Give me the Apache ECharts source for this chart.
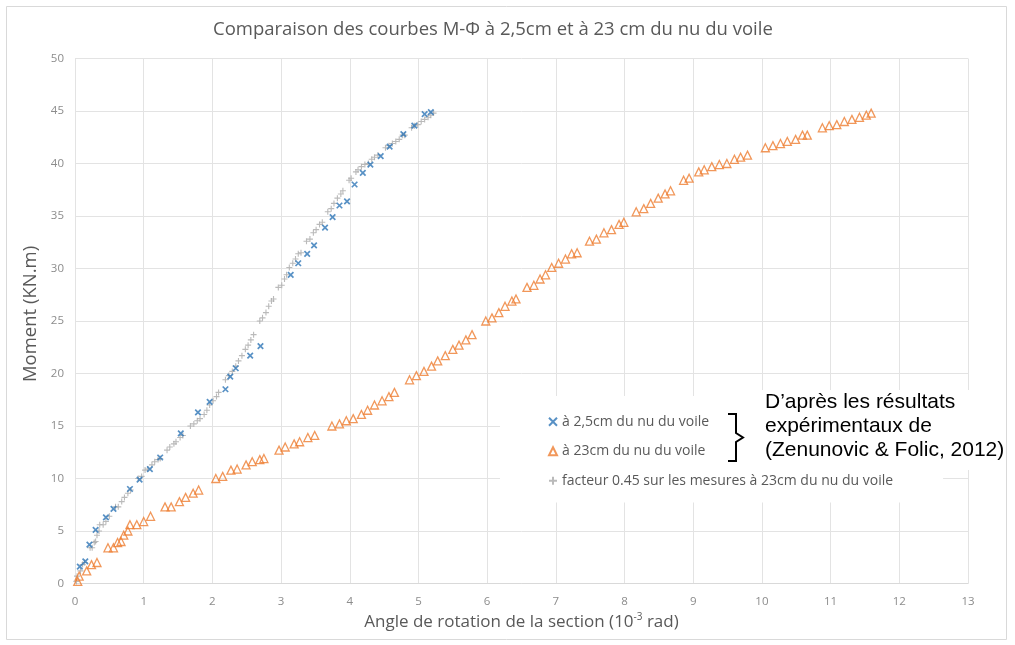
<!DOCTYPE html>
<html>
<head>
<meta charset="utf-8">
<script src="https://cdn.jsdelivr.net/npm/echarts@6/dist/echarts.min.js"></script>
<style>
  html, body { margin: 0; padding: 0; background: #fff; }
  #chart { width: 1015px; height: 645px; }
</style>
</head>
<body>
<div id="chart"></div>
<script>
// mesures a 2,5cm du nu du voile [rotation 10^-3 rad, moment kN.m]
var mesures25 = [
  [0.07,1.6],[0.15,2.1],[0.21,3.7],[0.30,5.1],[0.45,6.3],[0.56,7.1],[0.80,9.0],[0.94,9.9],
  [1.09,10.9],[1.24,12.0],[1.54,14.3],[1.79,16.3],[1.96,17.3],[2.19,18.5],[2.26,19.7],[2.34,20.5],
  [2.55,21.7],[2.70,22.6],[3.14,29.4],[3.25,30.5],[3.38,31.4],[3.48,32.2],[3.64,33.9],[3.75,34.9],
  [3.85,36.0],[3.96,36.4],[4.07,38.0],[4.19,39.1],[4.30,39.9],[4.45,40.7],[4.58,41.6],[4.78,42.8],
  [4.94,43.6],[5.09,44.7],[5.18,44.9]
];

// mesures a 23cm du nu du voile
var mesures23 = [
  [0.04,0.2],[0.06,0.7],[0.17,1.2],[0.24,1.8],[0.32,2.0],
  [0.48,3.4],[0.56,3.4],[0.62,3.9],[0.67,4.0],[0.71,4.6],[0.77,5.0],[0.80,5.6],[0.90,5.6],[1.00,5.9],[1.10,6.4],
  [1.31,7.3],[1.40,7.3],[1.52,7.8],[1.61,8.2],[1.72,8.6],[1.80,8.9],
  [2.05,10.0],[2.15,10.2],[2.27,10.8],[2.36,10.9],[2.49,11.3],[2.58,11.6],[2.69,11.8],[2.75,11.9],
  [2.97,12.7],[3.06,13.0],[3.19,13.3],[3.27,13.5],[3.39,13.9],[3.49,14.1],
  [3.74,15.0],[3.85,15.2],[3.95,15.5],[4.05,15.7],[4.17,16.1],[4.26,16.5],[4.36,17.0],[4.47,17.4],[4.57,17.8],[4.65,18.2],
  [4.87,19.4],[4.97,19.8],[5.08,20.2],[5.19,20.7],[5.28,21.2],[5.39,21.7],[5.50,22.3],[5.59,22.7],[5.69,23.2],[5.78,23.7],
  [5.98,25.0],[6.07,25.3],[6.17,25.8],[6.26,26.4],[6.36,26.9],[6.42,27.1],
  [6.58,28.2],[6.68,28.4],[6.77,29.0],[6.85,29.4],[6.94,30.1],[7.04,30.5],[7.14,30.9],[7.23,31.4],[7.31,31.5],
  [7.49,32.6],[7.59,32.8],[7.70,33.4],[7.81,33.7],[7.92,34.2],[7.99,34.4],
  [8.17,35.4],[8.28,35.7],[8.38,36.2],[8.49,36.7],[8.59,37.1],[8.67,37.4],
  [8.86,38.4],[8.94,38.6],[9.08,39.2],[9.16,39.4],[9.27,39.7],[9.38,39.9],[9.49,40.0],[9.60,40.4],[9.69,40.6],[9.79,40.8],
  [10.05,41.5],[10.16,41.7],[10.27,41.9],[10.37,42.1],[10.49,42.3],[10.59,42.7],[10.66,42.7],
  [10.88,43.4],[10.98,43.6],[11.09,43.7],[11.20,44.0],[11.31,44.2],[11.42,44.4],[11.52,44.6],[11.59,44.8]
];

var facteur045 = [
  [0.02,0.2],[0.03,0.7],[0.08,1.2],[0.11,1.8],[0.14,2.0],
  [0.22,3.4],[0.25,3.4],[0.28,3.9],[0.30,4.0],[0.32,4.6],[0.35,5.0],[0.36,5.6],[0.41,5.6],[0.45,5.9],[0.50,6.4],
  [0.59,7.3],[0.63,7.3],[0.68,7.8],[0.72,8.2],[0.77,8.6],[0.81,8.9],
  [0.92,10.0],[0.97,10.2],[1.02,10.8],[1.06,10.9],[1.12,11.3],[1.16,11.6],[1.21,11.8],[1.24,11.9],
  [1.34,12.7],[1.38,13.0],[1.44,13.3],[1.47,13.5],[1.53,13.9],[1.57,14.1],
  [1.68,15.0],[1.73,15.2],[1.78,15.5],[1.82,15.7],[1.88,16.1],[1.92,16.5],[1.96,17.0],[2.01,17.4],[2.06,17.8],[2.09,18.2],
  [2.19,19.4],[2.24,19.8],[2.29,20.2],[2.34,20.7],[2.38,21.2],[2.43,21.7],[2.48,22.3],[2.52,22.7],[2.56,23.2],[2.60,23.7],
  [2.69,25.0],[2.73,25.3],[2.78,25.8],[2.82,26.4],[2.86,26.9],[2.89,27.1],
  [2.96,28.2],[3.01,28.4],[3.05,29.0],[3.08,29.4],[3.12,30.1],[3.17,30.5],[3.21,30.9],[3.25,31.4],[3.29,31.5],
  [3.37,32.6],[3.42,32.8],[3.47,33.4],[3.51,33.7],[3.56,34.2],[3.60,34.4],
  [3.68,35.4],[3.73,35.7],[3.77,36.2],[3.82,36.7],[3.87,37.1],[3.90,37.4],
  [3.99,38.4],[4.02,38.6],[4.09,39.2],[4.12,39.4],[4.17,39.7],[4.22,39.9],[4.27,40.0],[4.32,40.4],[4.36,40.6],[4.41,40.8],
  [4.52,41.5],[4.57,41.7],[4.62,41.9],[4.67,42.1],[4.72,42.3],[4.77,42.7],[4.80,42.7],
  [4.90,43.4],[4.94,43.6],[4.99,43.7],[5.04,44.0],[5.09,44.2],[5.14,44.4],[5.18,44.6],[5.22,44.8]
];

var seriesNames = [
  'à 2,5cm du nu du voile',
  'à 23cm du nu du voile',
  'facteur 0.45 sur les mesures à 23cm du nu du voile'
];

var FONT = '"Open Sans", "Noto Sans", sans-serif';
var crossPath = 'path://M0,0L10,10M10,0L0,10';
var plusPath = 'path://M5,0L5,10M0,5L10,5';

var chart = echarts.init(document.getElementById('chart'));

chart.setOption({
  backgroundColor: '#fff',
  animation: false,
  title: {
    text: 'Comparaison des courbes M-Φ à 2,5cm et à 23 cm du nu du voile',
    left: 213,
    top: 20,
    padding: 0,
    textStyle: { fontFamily: FONT, fontSize: 18.5, fontWeight: 'normal', color: '#595959' }
  },
  grid: { left: 75, right: 47, top: 58.5, bottom: 61.5 },
  legend: {
    orient: 'vertical',
    left: 500,
    top: 396,
    padding: [16, 50, 12, 48],
    itemGap: 10,
    itemWidth: 8,
    itemHeight: 8,
    backgroundColor: '#fff',
    data: seriesNames,
    textStyle: { fontFamily: FONT, fontSize: 14, lineHeight: 19.5, color: '#595959' }
  },
  xAxis: {
    type: 'value',
    min: 0, max: 13, interval: 1,
    name: 'Angle de rotation de la section (10{sup|-3} rad)',
    nameLocation: 'middle',
    nameGap: 28,
    nameTextStyle: {
      fontFamily: FONT, fontSize: 17, color: '#595959',
      rich: { sup: { fontFamily: FONT, fontSize: 10, color: '#595959', padding: [0, 0, 9, 0] } }
    },
    axisLine: { show: true, lineStyle: { color: '#d9d9d9' } },
    axisTick: { show: false },
    axisLabel: { fontFamily: FONT, fontSize: 11.5, color: '#8c8c8c', margin: 12 },
    splitLine: { show: true, lineStyle: { color: '#e3e3e3' } }
  },
  yAxis: {
    type: 'value',
    min: 0, max: 50, interval: 5,
    name: 'Moment (KN.m)',
    nameLocation: 'middle',
    nameGap: 26,
    nameTextStyle: { fontFamily: FONT, fontSize: 18.5, color: '#595959', padding: [0, 0, 0, 14] },
    axisLine: { show: false },
    axisTick: { show: false },
    axisLabel: { fontFamily: FONT, fontSize: 11.5, color: '#8c8c8c', margin: 11 },
    splitLine: { show: true, lineStyle: { color: '#e3e3e3' } }
  },
  series: [
    {
      name: seriesNames[2],
      type: 'scatter',
      data: facteur045,
      symbol: plusPath,
      symbolSize: 6,
      itemStyle: { color: 'rgba(0,0,0,0)', borderColor: '#a9a9a9', borderWidth: 1.1 },
      z: 2
    },
    {
      name: seriesNames[1],
      type: 'scatter',
      data: mesures23,
      symbol: 'triangle',
      symbolSize: 8,
      itemStyle: { color: 'rgba(255,255,255,0)', borderColor: '#ed7d31', borderWidth: 1.3 },
      z: 3
    },
    {
      name: seriesNames[0],
      type: 'scatter',
      data: mesures25,
      symbol: crossPath,
      symbolSize: 5.5,
      itemStyle: { color: 'rgba(0,0,0,0)', borderColor: '#2e75b6', borderWidth: 1.7 },
      z: 4
    }
  ],
  graphic: [
    // cadre exterieur
    { type: 'rect', silent: true, z: -1,
      shape: { x: 6.5, y: 6.5, width: 1000, height: 633 },
      style: { fill: 'none', stroke: '#d9d9d9', lineWidth: 1 } },
    // fond blanc sous l'annotation
    { type: 'rect', silent: true, z: 50,
      shape: { x: 758, y: 390, width: 247, height: 80 },
      style: { fill: '#fff' } },
    // accolade
    { type: 'polyline', silent: true, z: 51,
      shape: { points: [[728, 414], [736, 414], [736, 433], [743, 437.5], [736, 442], [736, 461], [728, 461]] },
      style: { fill: 'none', stroke: '#000', lineWidth: 2 } },
    { type: 'text', silent: true, z: 51, left: 765, top: 390,
      style: {
        text: 'D’après les résultats\nexpérimentaux de\n(Zenunovic & Folic, 2012)',
        font: '21px "Liberation Sans", Arial, sans-serif',
        lineHeight: 24,
        fill: '#000'
      } }
  ]
});
</script>
</body>
</html>
